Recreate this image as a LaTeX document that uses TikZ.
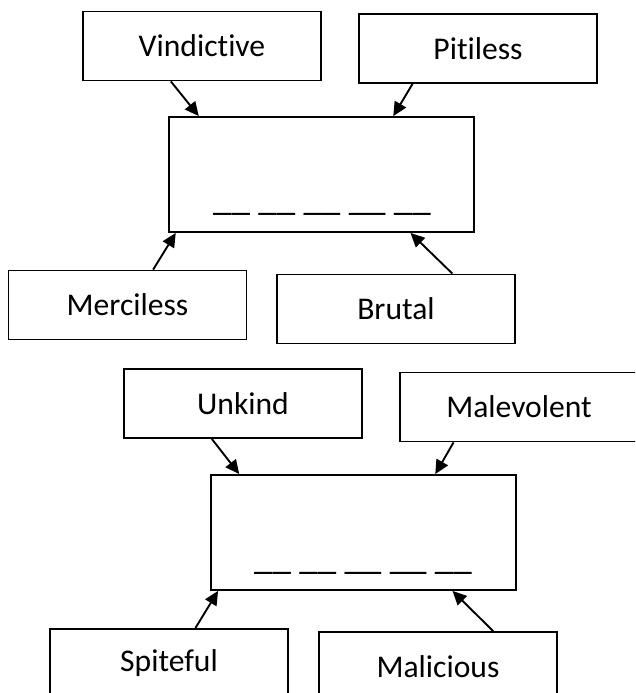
\documentclass[tikz,border=0pt]{standalone}
\usepackage{fontspec}
\setmainfont{Carlito}[Ligatures=NoCommon]
\usetikzlibrary{calc,arrows.meta}
\begin{document}
\begin{tikzpicture}[x=1pt,y=-1pt,
  wordbox/.style={draw,line width=1.8pt,minimum width=238pt,minimum height=69pt,inner sep=0pt,
    font=\fontsize{31.6}{38}\selectfont},
  bigbox/.style={draw,line width=1.8pt,minimum width=305pt,minimum height=115pt,inner sep=0pt},
  blanks/.style={font=\fontsize{37}{40}\selectfont,inner sep=0pt,anchor=base},
  link/.style={line width=1.9pt,-{Triangle[length=14pt,width=13pt]}}]
\useasboundingbox (0,0) rectangle (635,693);
\clip (0,0) rectangle (635,693);
% top group
\node[wordbox] (vin) at (202,46) {Vindictive};
\node[wordbox] (pit) at (478,48.5) {Pitiless};
\node[bigbox] (c1) at (321.5,174.5) {};
\node[blanks] (b1) at (322,210) {\_\_ \_\_ \_\_ \_\_ \_\_};
\node[wordbox] (mer) at (127.5,305) {Merciless};
\node[wordbox] (bru) at (396,309) {Brutal};
% bottom group
\node[wordbox] (unk) at (243,403.5) {Unkind};
\node[wordbox] (mal) at (519,407) {Malevolent};
\node[bigbox] (c2) at (363.5,532.5) {};
\node[blanks] (b2) at (363,569) {\_\_ \_\_ \_\_ \_\_ \_\_};
\node[wordbox] (spi) at (169,663.5) {Spiteful};
\node[wordbox] (mlc) at (438,666.5) {Malicious};
% arrows
\draw[link] ($(vin.south west)!0.37!(vin.south east)$) -- ($(c1.north west)!0.10!(c1.north east)$);
\draw[link] ($(pit.south west)!0.227!(pit.south east)$) -- ($(c1.north west)!0.734!(c1.north east)$);
\draw[link] ($(mer.north west)!0.607!(mer.north east)$) -- ($(c1.south west)!0.025!(c1.south east)$);
\draw[link] ($(bru.north west)!0.735!(bru.north east)$) -- ($(c1.south west)!0.79!(c1.south east)$);
\draw[link] ($(unk.south west)!0.37!(unk.south east)$) -- ($(c2.north west)!0.095!(c2.north east)$);
\draw[link] ($(mal.south west)!0.227!(mal.south east)$) -- ($(c2.north west)!0.734!(c2.north east)$);
\draw[link] ($(spi.north west)!0.61!(spi.north east)$) -- ($(c2.south west)!0.026!(c2.south east)$);
\draw[link] ($(mlc.north west)!0.73!(mlc.north east)$) -- ($(c2.south west)!0.79!(c2.south east)$);
\end{tikzpicture}
\end{document}
